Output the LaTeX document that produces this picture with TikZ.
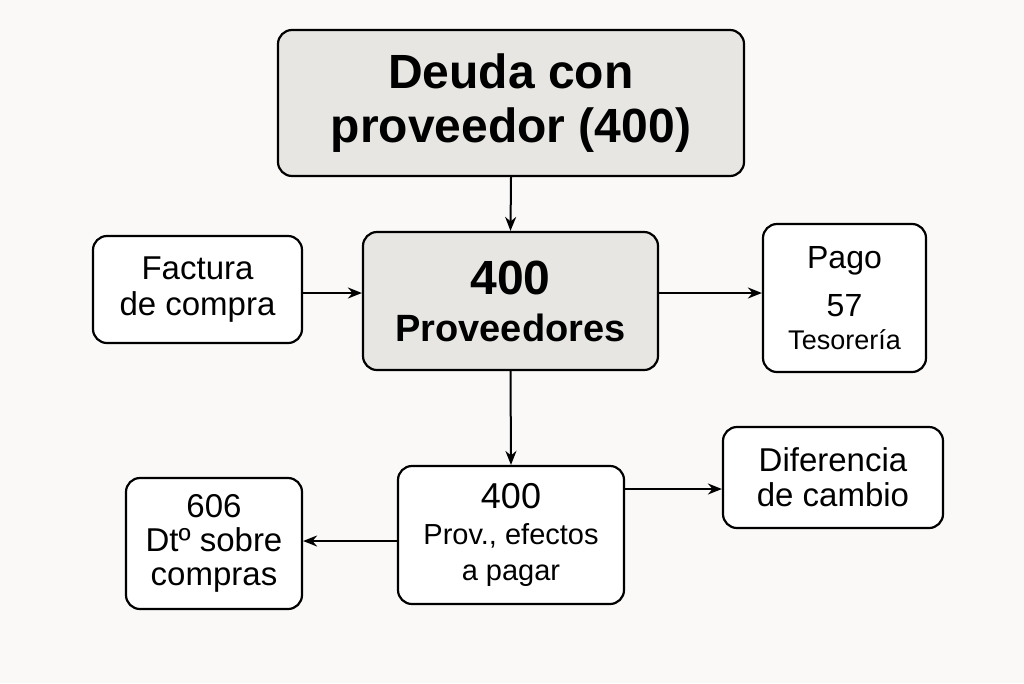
\documentclass[tikz,border=0pt]{standalone}
\usepackage{fontspec}
\setmainfont{Liberation Sans}
\usetikzlibrary{arrows.meta}
\definecolor{bg}{HTML}{FAF9F7}
\definecolor{boxg}{HTML}{E8E6E3}
\newcommand{\fs}[2]{\fontsize{#1}{#2}\selectfont}
\begin{document}
\begin{tikzpicture}[x=1pt,y=-1pt,
  box/.style={draw=black,line width=2.2pt,rounded corners=14pt,fill=white,align=center,inner sep=0pt},
  gbox/.style={box,fill=boxg},
  arr/.style={-{Stealth[length=14pt,width=11pt]},line width=2pt}]
\fill[bg] (0,0) rectangle (1024,683);
\useasboundingbox (0,0) rectangle (1024,683);
\node[gbox,minimum width=466pt,minimum height=146pt,font=\fs{48}{54}\bfseries] (top) at (511,103) {Deuda con\\proveedor (400)};
\node[gbox,minimum width=295pt,minimum height=138pt,font=\fs{38}{47}\bfseries] (c) at (510.5,301) {\fs{48}{47}\bfseries 400\\Proveedores};
\node[box,minimum width=209pt,minimum height=107pt,font=\fs{33}{36}] (f) at (197.5,289.5) {Factura\\de compra};
\node[box,minimum width=163pt,minimum height=148pt,font=\fs{32}{48}] (p) at (844.5,298) {Pago\\57\\[-15pt]\fs{27}{33}Tesorería};
\node[box,minimum width=226pt,minimum height=138pt,font=\fs{29}{36}] (b) at (511,535) {\fs{36}{38}400\\Prov., efectos\\a pagar};
\node[box,minimum width=220pt,minimum height=101pt,font=\fs{33}{35}] (d) at (833,477.5) {Diferencia\\de cambio};
\node[box,minimum width=176pt,minimum height=131pt,font=\fs{33}{34}] (s) at (214,543.5) {606\\Dtº sobre\\compras};
\draw[arr] (top.south) -- (c.north);
\draw[arr] (f.east |- 0,293) -- (c.west |- 0,293);
\draw[arr] (c.east |- 0,293) -- (p.west |- 0,293);
\draw[arr] (c.south) -- (b.north);
\draw[arr] (b.east |- 0,489) -- (d.west |- 0,489);
\draw[arr] (b.west |- 0,541) -- (s.east |- 0,541);
\end{tikzpicture}
\end{document}
